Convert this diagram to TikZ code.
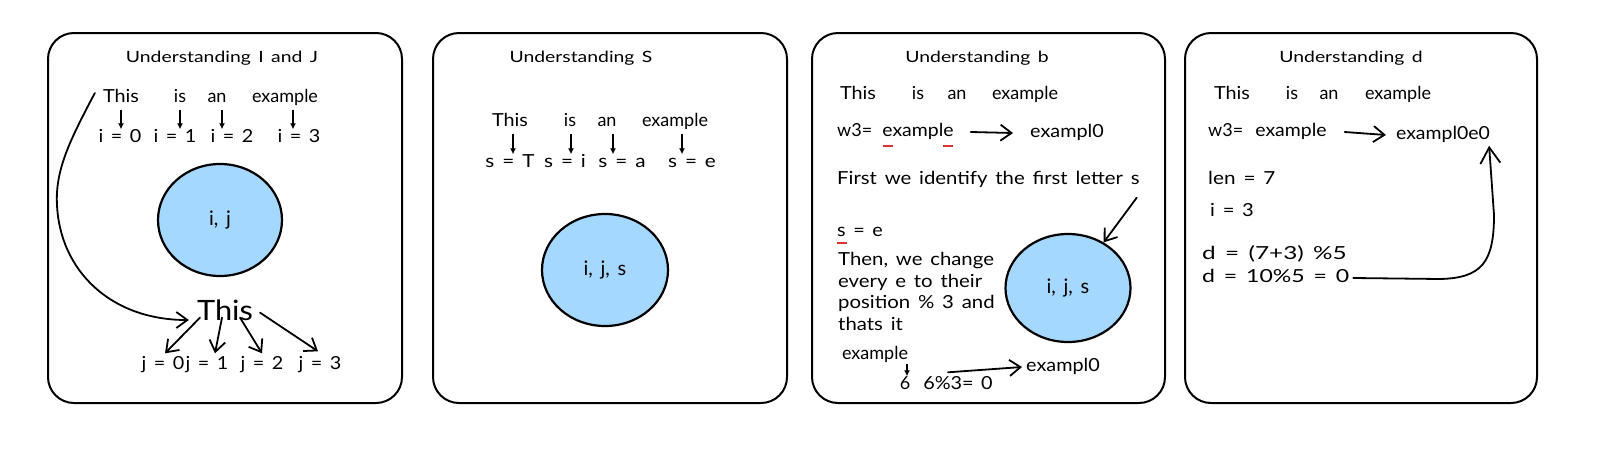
\documentclass[tikz,border=0pt]{standalone}
\usepackage{fontspec}
\setmainfont{Lato}[WordSpace=1.5]
\usetikzlibrary{arrows.meta,shapes.geometric,calc}
\definecolor{blobblue}{HTML}{A5D8FF}
\definecolor{redmark}{HTML}{E03131}
\newcommand\hsc[2]{\scalebox{#1}[1]{#2}}
\begin{document}
\begin{tikzpicture}[x=1pt,y=-1pt,
  panel/.style={draw, line width=2pt, rounded corners=26pt},
  txt/.style={inner sep=0pt, text height=13pt, text depth=4pt, font=\fontsize{18}{21}\selectfont},
  ttl/.style={inner sep=0pt, text height=12pt, text depth=4pt, font=\fontsize{15.5}{18}\selectfont},
  bigtxt/.style={inner sep=0pt, font=\fontsize{28}{30}\selectfont},
  blob/.style={ellipse, draw, line width=2.2pt, fill=blobblue, inner sep=0pt, font=\fontsize{20}{22}\selectfont},
  darr/.style={line width=1.5pt, -{Latex[length=6pt,width=6pt]}},
  barb/.style={line width=1.8pt, line cap=round, -{Straight Barb[length=11pt,width=16pt]}},
  redu/.style={redmark, line width=2.2pt},
]
\useasboundingbox[fill=white] (0,0) rectangle (1600,461);

% ---------------- Panel 1 ----------------
\draw[panel] (48,33) rectangle (402,403);
\node[ttl] (t1) at (222,58) {\hsc{1.25}{Understanding I and J}};
\node[txt] (p1w1) at (121,98) {\hsc{1.1}{This}};
\node[txt] (p1w2) at (180,98) {is};
\node[txt] (p1w3) at (217,98) {an};
\node[txt] (p1w4) at (285,98) {example};
\node[txt] (p1i0) at (120,138) {\hsc{1.1}{i = 0}};
\node[txt] (p1i1) at (175,138) {\hsc{1.1}{i = 1}};
\node[txt] (p1i2) at (232,138) {\hsc{1.1}{i = 2}};
\node[txt] (p1i3) at (299,138) {\hsc{1.1}{i = 3}};
\draw[darr] ([yshift=-3pt]p1w1.south) -- (p1w1.south |- p1i0.north);
\draw[darr] ([yshift=-3pt]p1w2.south) -- (p1w2.south |- p1i1.north);
\draw[darr] ([xshift=5pt,yshift=-3pt]p1w3.south) -- ([xshift=5pt]p1w3.south |- p1i2.north);
\draw[darr] ([xshift=8pt,yshift=-3pt]p1w4.south) -- ([xshift=8pt]p1w4.south |- p1i3.north);
\node[blob, minimum width=124pt, minimum height=112pt] (c1) at (220,220) {i, j};
\node[bigtxt] (bt) at (225,310) {\hsc{1.1}{This}};
\node[txt] (j0) at (163,365) {\hsc{1.1}{j = 0}};
\node[txt] (j1) at (207,365) {\hsc{1.1}{j = 1}};
\node[txt] (j2) at (262,365) {\hsc{1.1}{j = 2}};
\node[txt] (j3) at (320,365) {\hsc{1.1}{j = 3}};
\draw[barb] ([xshift=-25pt,yshift=3pt]bt.south) -- ([xshift=2pt,yshift=3pt]j0.north);
\draw[barb] ([xshift=-3pt,yshift=3pt]bt.south) -- ([xshift=8pt,yshift=3pt]j1.north);
\draw[barb] ([xshift=15pt,yshift=3pt]bt.south) -- ([xshift=0pt,yshift=3pt]j2.north);
\draw[barb] ([xshift=35pt,yshift=8pt]bt.south) -- ([xshift=-2pt,yshift=5pt]j3.north);
\draw[barb] ([xshift=-8pt,yshift=5pt]p1w1.west) .. controls (70,140) and (55,170) .. (57,205)
   .. controls (60,270) and (110,320) .. ([xshift=-8pt,yshift=-10pt]bt.west);

% ---------------- Panel 2 ----------------
\draw[panel] (433,33) rectangle (787,403);
\node[ttl] (t2) at (581,58) {\hsc{1.25}{Understanding S}};
\node[txt] (p2w1) at (510,122) {\hsc{1.1}{This}};
\node[txt] (p2w2) at (570,122) {is};
\node[txt] (p2w3) at (607,122) {an};
\node[txt] (p2w4) at (675,122) {example};
\node[txt] (s1) at (510,163) {\hsc{1.15}{s = T}};
\node[txt] (s2) at (565,163) {\hsc{1.15}{s = i}};
\node[txt] (s3) at (622,163) {\hsc{1.15}{s = a}};
\node[txt] (s4) at (692,163) {\hsc{1.15}{s = e}};
\draw[darr] ([xshift=3pt,yshift=-3pt]p2w1.south) -- ([xshift=3pt]p2w1.south |- s1.north);
\draw[darr] ([xshift=1pt,yshift=-3pt]p2w2.south) -- ([xshift=1pt]p2w2.south |- s2.north);
\draw[darr] ([xshift=6pt,yshift=-3pt]p2w3.south) -- ([xshift=6pt]p2w3.south |- s3.north);
\draw[darr] ([xshift=7pt,yshift=-3pt]p2w4.south) -- ([xshift=7pt]p2w4.south |- s4.north);
\node[blob, minimum width=126pt, minimum height=112pt] (c2) at (605,270) {i, j, s};

% ---------------- Panel 3 ----------------
\draw[panel] (812,33) rectangle (1165,403);
\node[ttl] (t3) at (977,58) {\hsc{1.25}{Understanding b}};
\node[txt] (p3w1) at (858,95) {\hsc{1.1}{This}};
\node[txt] (p3w2) at (918,95) {is};
\node[txt] (p3w3) at (957,95) {an};
\node[txt] (p3w4) at (1025,95) {example};
\node[txt, anchor=west] (w3a) at (837,132) {w3=};
\node[txt] (ex3a) at (918,132) {\hsc{1.08}{example}};
\node[txt] (ex3b) at (1067,133) {\hsc{1.1}{exampl0}};
\draw[barb] ([xshift=17pt]ex3a.east) -- ([xshift=-17pt]ex3b.west);
\draw[redu] (883,146) -- (893,146);
\draw[redu] (943,146) -- (953,146);
\node[txt, anchor=west] (fst) at (837,180) {\hsc{1.13}{First we identify the first letter s}};
\node[blob, minimum width=125pt, minimum height=108pt] (c3) at (1068,288) {i, j, s};
\draw[barb] ([xshift=-3pt,yshift=-9pt]fst.south east) -- (c3.52);
\node[txt, anchor=west] (se) at (837,232) {\hsc{1.1}{s = e}};
\draw[redu] (837,243) -- (847,243);
\node[inner sep=0pt, anchor=north west, align=left, font=\fontsize{18}{21.7}\selectfont] (para) at (838,252)
  {\hsc{1.13}{Then, we change}\\\hsc{1.13}{every e to their}\\\hsc{1.13}{position \% 3 and}\\\hsc{1.13}{thats it}};
\node[txt] (ex3c) at (875,355) {example};
\node[txt] (six) at (905,385) {6};
\node[txt] (mod) at (958,385) {\hsc{1.1}{6\%3= 0}};
\draw[darr] ([xshift=2pt]six.north |- ex3c.south) -- ([xshift=2pt]six.north);
\node[txt] (ex3d) at (1063,367) {\hsc{1.1}{exampl0}};
\draw[barb] ([xshift=-10pt,yshift=4pt]mod.north) -- ([xshift=-4pt]ex3d.west);

% ---------------- Panel 4 ----------------
\draw[panel] (1185,33) rectangle (1537,403);
\node[ttl] (t4) at (1351,58) {\hsc{1.25}{Understanding d}};
\node[txt] (p4w1) at (1232,95) {\hsc{1.1}{This}};
\node[txt] (p4w2) at (1292,95) {is};
\node[txt] (p4w3) at (1329,95) {an};
\node[txt] (p4w4) at (1398,95) {example};
\node[txt, anchor=west] (w4a) at (1208,132) {w3=};
\node[txt] (ex4a) at (1291,132) {\hsc{1.08}{example}};
\node[txt] (ex4b) at (1443,135) {\hsc{1.08}{exampl0e0}};
\draw[barb] ([xshift=18pt]ex4a.east) -- ([xshift=-10pt]ex4b.west);
\node[txt, anchor=west] (len) at (1208,180) {\hsc{1.15}{len = 7}};
\node[txt, anchor=west] (ii) at (1210,212) {\hsc{1.12}{i = 3}};
\node[txt, anchor=west] (d1) at (1202,255) {\hsc{1.35}{d = (7+3) \%5}};
\node[txt, anchor=west] (d2) at (1202,278) {\hsc{1.28}{d = 10\%5 = 0}};
\draw[barb, -{Straight Barb[length=16pt,width=20pt]}] ([xshift=4pt]d2.east) -- (1440,279)
   .. controls (1482,278) and (1494,262) .. (1494,215) -- ([xshift=-1pt,yshift=-2pt]ex4b.south east);
\end{tikzpicture}
\end{document}
